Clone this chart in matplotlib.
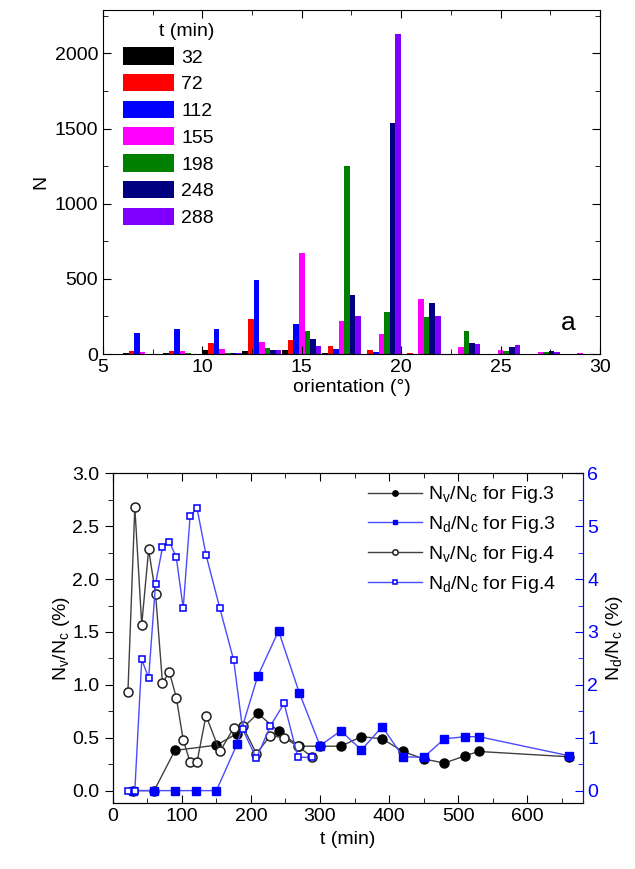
import numpy as np
import matplotlib
matplotlib.use("Agg")
import matplotlib.pyplot as plt
from matplotlib.ticker import MultipleLocator

plt.rcParams['font.family'] = ['Liberation Sans', 'DejaVu Sans']
plt.rcParams['mathtext.fontset'] = 'custom'
plt.rcParams['mathtext.rm'] = 'Liberation Sans'
plt.rcParams['mathtext.it'] = 'Liberation Sans'
plt.rcParams['font.size'] = 14

# ---- panel a: orientation histogram ----
orientation = [7, 9, 11, 13, 15, 17, 19, 21, 23, 25, 27, 29]
times = ['32', '72', '112', '155', '198', '248', '288']
n_32 = [5, 10, 27, 22, 29, 9, 2, 1, 1, 1, 1, 1]
n_72 = [22, 20, 73, 236, 93, 53, 27, 9, 2, 2, 2, 1]
n_112 = [140, 165, 165, 494, 198, 35, 11, 3, 1, 2, 1, 1]
n_155 = [12, 20, 33, 80, 672, 218, 131, 365, 45, 27, 16, 5]
n_198 = [3, 5, 10, 38, 155, 1250, 278, 245, 150, 22, 14, 2]
n_248 = [2, 3, 8, 27, 102, 393, 1538, 338, 73, 49, 22, 2]
n_288 = [1, 2, 6, 27, 55, 253, 2128, 251, 70, 62, 11, 3]
bar_colors = ['#000000', '#ff0000', '#0000ff', '#ff00ff', '#008000', '#000080', '#8000ff']

# ---- panel b: ratios vs time ----
fig3_t = [30, 60, 90, 150, 180, 210, 240, 270, 300, 330, 360, 390, 420, 450, 480, 510, 530, 660]
fig3_nv = [0.0, 0.0, 0.38, 0.43, 0.54, 0.73, 0.56, 0.42, 0.42, 0.42, 0.51, 0.49, 0.37, 0.30, 0.26, 0.33, 0.37, 0.32]
fig3_nd_t = [30, 60, 90, 120, 150, 180, 210, 240, 270, 300, 330, 360, 390, 420, 450, 480, 510, 530, 660]
fig3_nd = [0, 0, 0, 0, 0, 0.88, 2.17, 3.02, 1.85, 0.85, 1.13, 0.77, 1.21, 0.64, 0.63, 0.98, 1.02, 1.02, 0.66]
fig4_t = [22, 32, 42, 52, 62, 72, 82, 92, 102, 112, 122, 135, 155, 175, 188, 208, 228, 248, 268, 288]
fig4_nv = [0.93, 2.68, 1.57, 2.28, 1.86, 1.02, 1.12, 0.88, 0.48, 0.27, 0.27, 0.71, 0.37, 0.59, 0.61, 0.35, 0.52, 0.50, 0.42, 0.32]
fig4_nd = [0, 0, 2.48, 2.13, 3.91, 4.6, 4.71, 4.41, 3.45, 5.19, 5.34, 4.46, 3.45, 2.47, 1.16, 0.61, 1.22, 1.65, 0.63, 0.63]

fig = plt.figure(figsize=(6.35, 8.69), dpi=100)

# top panel
ax1 = fig.add_axes([0.162, 0.5926, 0.783, 0.396])
w = 0.28
x = np.array(orientation, dtype=float)
series = [n_32, n_72, n_112, n_155, n_198, n_248, n_288]
for i, (vals, c, lab) in enumerate(zip(series, bar_colors, times)):
    ax1.bar(x + (i - 3) * w, vals, width=w, color=c, linewidth=0, label=lab)
ax1.set_xlim(5, 30)
ax1.set_ylim(0, 2290)
ax1.xaxis.set_major_locator(MultipleLocator(5))
ax1.xaxis.set_minor_locator(MultipleLocator(2.5))
ax1.yaxis.set_major_locator(MultipleLocator(500))
ax1.yaxis.set_minor_locator(MultipleLocator(250))
ax1.tick_params(which='both', direction='in', top=True, right=True)
ax1.tick_params(which='major', length=6)
ax1.tick_params(which='minor', length=3.5)
ax1.set_xlabel('orientation (°)', labelpad=2)
ax1.set_ylabel('N')
ax1.text(0.935, 0.09, 'a', transform=ax1.transAxes, fontsize=19, ha='center', va='center')
leg1 = ax1.legend(title='t (min)', loc='upper left', bbox_to_anchor=(0.025, 0.985),
                  frameon=False, handlelength=2.6, handleheight=1.0,
                  labelspacing=0.38, handletextpad=0.4, borderaxespad=0,
                  alignment='right', fontsize=14, title_fontsize=14)

# bottom panel
ax2 = fig.add_axes([0.1775, 0.0756, 0.740, 0.3797])
ax3 = ax2.twinx()
line_gray = '#404040'
blue = '#0000ff'
line_blue = '#4a4aff'
h1, = ax2.plot(fig3_t, fig3_nv, '-', color=line_gray, lw=1, marker='o', ms=6.5,
               mfc='black', mec='black', label='N$_v$/N$_c$ for Fig.3')
h3, = ax2.plot(fig4_t, fig4_nv, '-', color=line_gray, lw=1, marker='o', ms=6.5,
               mfc='white', mec='#202020', mew=1.1, label='N$_v$/N$_c$ for Fig.4')
h2, = ax3.plot(fig3_nd_t, fig3_nd, '-', color=line_blue, lw=1, marker='s', ms=5.5,
               mfc=blue, mec=blue, label='N$_d$/N$_c$ for Fig.3')
h4, = ax3.plot(fig4_t, fig4_nd, '-', color=line_blue, lw=1, marker='s', ms=5,
               mfc='white', mec=blue, mew=1.1, label='N$_d$/N$_c$ for Fig.4')

ax2.set_xlim(0, 680)
ax2.set_ylim(-0.12, 3.0)
ax3.set_ylim(-0.24, 6.0)
ax2.xaxis.set_major_locator(MultipleLocator(100))
ax2.xaxis.set_minor_locator(MultipleLocator(50))
ax2.yaxis.set_major_locator(MultipleLocator(0.5))
ax2.yaxis.set_minor_locator(MultipleLocator(0.25))
ax2.yaxis.set_major_formatter(matplotlib.ticker.FormatStrFormatter('%.1f'))
ax3.yaxis.set_major_locator(MultipleLocator(1))
ax3.yaxis.set_minor_locator(MultipleLocator(0.5))
ax2.tick_params(axis='x', which='both', direction='in', top=True)
ax2.tick_params(axis='y', which='both', direction='out')
ax2.tick_params(which='major', length=6)
ax2.tick_params(which='minor', length=3.5)
ax3.tick_params(axis='y', which='both', direction='in', colors=blue)
ax3.tick_params(which='major', length=6)
ax3.tick_params(which='minor', length=3.5)
ax3.spines['right'].set_color(blue)
ax2.set_xlabel('t (min)')
ax2.set_ylabel('N$_v$/N$_c$ (%)', labelpad=0)
ax3.set_ylabel('N$_d$/N$_c$ (%)', color='black', rotation=90)

ax3.legend([h1, h2, h3, h4], [h.get_label() for h in (h1, h2, h3, h4)],
           loc='upper right', bbox_to_anchor=(0.96, 0.99), frameon=False,
           numpoints=1, markerscale=0.6, handlelength=2.8, labelspacing=0.45,
           handletextpad=0.3, borderaxespad=0, fontsize=14)

fig.savefig('out.png', dpi=100)
